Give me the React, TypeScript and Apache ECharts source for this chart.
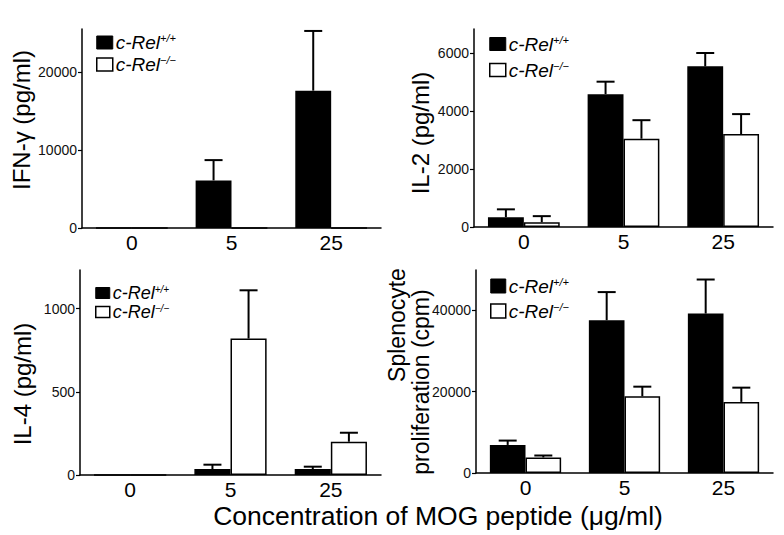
import React, { useEffect, useRef } from 'react';
import * as echarts from 'echarts';

const categories = ['0', '5', '25'];
const wtName = 'c-Rel+/+';
const koName = 'c-Rel−/−';

const ifnWT = [0, 6100, 17600];
const ifnWTErr = [0, 2600, 7650];
const ifnKO = [0, 0, 0];
const ifnKOErr = [0, 0, 0];

const il2WT = [340, 4590, 5550];
const il2WTErr = [270, 430, 460];
const il2KO = [165, 3050, 3210];
const il2KOErr = [210, 640, 690];

const il4WT = [0, 36, 36];
const il4WTErr = [0, 26, 14];
const il4KO = [0, 820, 200];
const il4KOErr = [0, 290, 54];

const prolWT = [6900, 37560, 39190];
const prolWTErr = [1070, 6910, 8370];
const prolKO = [3820, 18860, 17480];
const prolKOErr = [480, 2360, 3500];

const ifnTicks = [0, 10000, 20000];
const il2Ticks = [0, 2000, 4000, 6000];
const il4Ticks = [0, 500, 1000];
const prolTicks = [0, 20000, 40000];

const FONT = '"Liberation Sans", Arial, Helvetica, sans-serif';

const panels = [
  { wt: ifnWT, wtErr: ifnWTErr, ko: ifnKO, koErr: ifnKOErr, ticks: ifnTicks, max: 25500,
    grid: { left: 82, top: 29, width: 299, height: 199 }, legend: { left: 96, top: 32.5, w: 16, h: 13, lh: 20, gap: 2, fs: 19 } },
  { wt: il2WT, wtErr: il2WTErr, ko: il2KO, koErr: il2KOErr, ticks: il2Ticks, max: 6840,
    grid: { left: 474, top: 29, width: 299, height: 198 }, legend: { left: 489, top: 34, w: 16, h: 13, lh: 20, gap: 6, fs: 19 } },
  { wt: il4WT, wtErr: il4WTErr, ko: il4KO, koErr: il4KOErr, ticks: il4Ticks, max: 1232,
    grid: { left: 80, top: 270, width: 301, height: 205 }, legend: { left: 95, top: 284, w: 14, h: 11, lh: 18, gap: 1, fs: 18 } },
  { wt: prolWT, wtErr: prolWTErr, ko: prolKO, koErr: prolKOErr, ticks: prolTicks, max: 49900,
    grid: { left: 476, top: 270, width: 297, height: 203 }, legend: { left: 490, top: 276, w: 15, h: 14, lh: 20, gap: 5, fs: 19 } },
];

function buildOption() {
  const grid: any[] = [];
  const xAxis: any[] = [];
  const yAxis: any[] = [];
  const series: any[] = [];
  const legend: any[] = [];

  panels.forEach((p, i) => {
    grid.push({ ...p.grid, containLabel: false });
    xAxis.push({
      type: 'category', gridIndex: i, data: categories,
      axisLine: { lineStyle: { color: '#000', width: 1.5 } },
      axisTick: { show: false },
      axisLabel: { color: '#000', fontSize: 21, fontFamily: FONT, margin: 4 },
    });
    yAxis.push({
      type: 'value', gridIndex: i, min: 0, max: p.max,
      splitLine: { show: false },
      axisLine: { show: true, lineStyle: { color: '#000', width: 1.5 } },
      axisTick: { show: true, length: 4, customValues: p.ticks, lineStyle: { color: '#000', width: 1.2 } },
      axisLabel: {
        color: '#111', fontSize: 14, fontFamily: FONT, margin: 5, customValues: p.ticks,
        formatter: (v: number) => String(v),
      },
    });
    series.push({
      type: 'bar', name: wtName, xAxisIndex: i, yAxisIndex: i, data: p.wt,
      barGap: '0%', barCategoryGap: '28%',
      itemStyle: { color: '#000', borderColor: '#000', borderWidth: 1.5 },
    });
    series.push({
      type: 'bar', name: koName, xAxisIndex: i, yAxisIndex: i, data: p.ko,
      barGap: '0%', barCategoryGap: '28%',
      itemStyle: { color: '#fff', borderColor: '#000', borderWidth: 1.5 },
    });
    const errData: number[][] = [];
    [p.wt, p.ko].forEach((vals, s) => {
      const errs = s === 0 ? p.wtErr : p.koErr;
      vals.forEach((v, c) => errData.push([c, v, errs[c], s]));
    });
    series.push({
      type: 'custom', xAxisIndex: i, yAxisIndex: i, data: errData, clip: false,
      encode: { x: 0, y: 1 }, silent: true,
      renderItem: (params: any, api: any) => {
        const c = api.value(0), v = api.value(1), e = api.value(2), s = api.value(3);
        if (!e) return { type: 'group', children: [] };
        const band = api.size([1, 0])[0];
        const base = api.coord([c, v]);
        const top = api.coord([c, v + e]);
        const x = base[0] + (s === 0 ? -0.18 : 0.18) * band;
        const st = { stroke: '#000', lineWidth: 2 };
        return {
          type: 'group',
          children: [
            { type: 'line', shape: { x1: x, y1: base[1], x2: x, y2: top[1] }, style: st },
            { type: 'line', shape: { x1: x - 9, y1: top[1], x2: x + 9, y2: top[1] }, style: st },
          ],
        };
      },
    });
    const lg = p.legend;
    legend.push({
      left: lg.left, top: lg.top, orient: 'vertical', icon: 'rect',
      itemWidth: lg.w, itemHeight: lg.h, itemGap: lg.gap, padding: 0, selectedMode: false,
      data: [
        { name: wtName, itemStyle: { color: '#000', borderColor: '#000', borderWidth: 1 } },
        { name: koName, itemStyle: { color: '#fff', borderColor: '#000', borderWidth: 1.5 } },
      ],
      formatter: (name: string) => name === wtName ? '{a|c-Rel}{b|+/+}' : '{a|c-Rel}{b|−/−}',
      textStyle: {
        padding: [0, 0, 0, -2],
        lineHeight: lg.lh,
        rich: {
          a: { fontSize: lg.fs, lineHeight: lg.lh, fontStyle: 'italic', fontFamily: FONT, color: '#000' },
          b: { fontSize: Math.round(lg.fs * 0.58), lineHeight: lg.lh, fontStyle: 'italic', fontFamily: FONT, color: '#000', verticalAlign: 'top' },
        },
      },
    });
  });

  const textStyle = (txt: string, size: number) => ({
    text: txt, fontSize: size, fontFamily: FONT, fill: '#000',
    align: 'center', verticalAlign: 'middle', textAlign: 'center', textVerticalAlign: 'middle',
  });

  const graphic = [
    { type: 'text', x: 21, y: 120, rotation: Math.PI / 2, style: textStyle('IFN-γ (pg/ml)', 24) },
    { type: 'text', x: 420, y: 133, rotation: Math.PI / 2, style: textStyle('IL-2 (pg/ml)', 24) },
    { type: 'text', x: 22, y: 384, rotation: Math.PI / 2, style: textStyle('IL-4 (pg/ml)', 24) },
    { type: 'text', x: 397, y: 325, rotation: Math.PI / 2, style: textStyle('Splenocyte', 23) },
    { type: 'text', x: 421, y: 382, rotation: Math.PI / 2, style: textStyle('proliferation (cpm)', 23) },
    { type: 'text', x: 438, y: 516, style: textStyle('Concentration of MOG peptide (μg/ml)', 26.5) },
  ];

  return {
    animation: false,
    backgroundColor: '#fff',
    grid, xAxis, yAxis, series, legend, graphic,
  };
}

export default function App() {
  const ref = useRef<HTMLDivElement>(null);
  useEffect(() => {
    if (!ref.current) return;
    const chart = echarts.init(ref.current, undefined, { renderer: 'svg' });
    chart.setOption(buildOption() as any);
    return () => chart.dispose();
  }, []);
  return <div ref={ref} style={{ position: 'fixed', left: 0, top: 0, width: 784, height: 535 }} />;
}
